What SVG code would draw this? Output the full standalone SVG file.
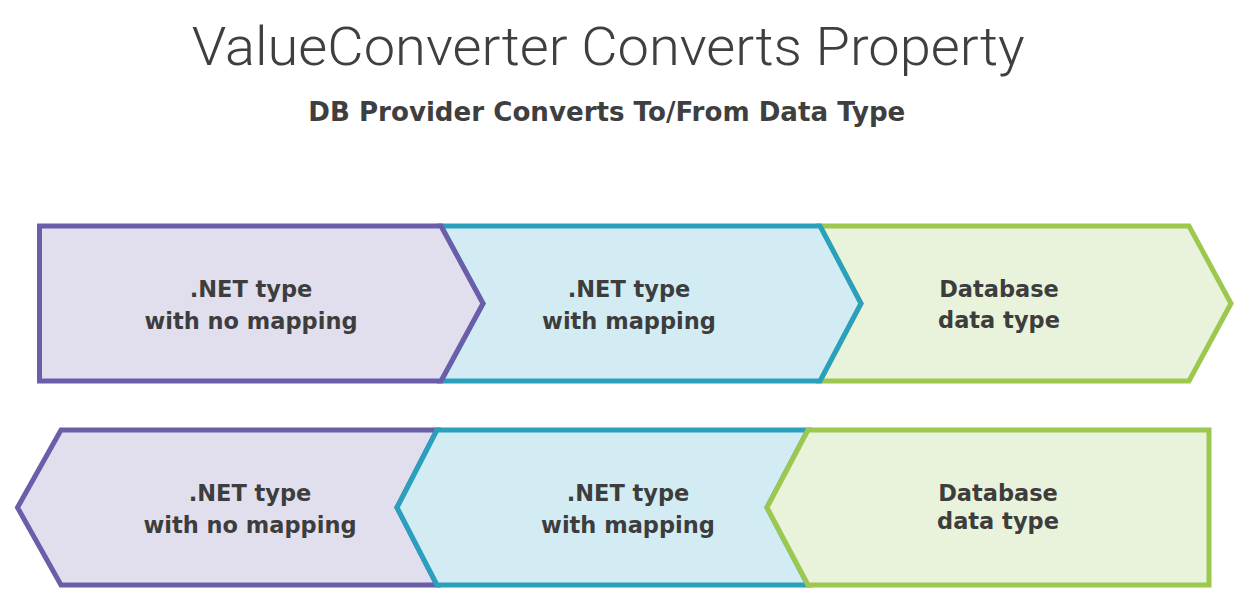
<svg xmlns="http://www.w3.org/2000/svg" width="1256" height="608" viewBox="0 0 1256 608">
<style>
.title{font-family:Roboto,"Open Sans",sans-serif;font-weight:300;font-size:53px;fill:#3f3f3f}
.sub{font-family:"DejaVu Sans",sans-serif;font-weight:bold;font-size:26px;fill:#3f3f3f}
.lbl{font-family:"DejaVu Sans",sans-serif;font-weight:bold;font-size:22.5px;fill:#3d3d3d;text-anchor:middle}
.p{fill:#e1dfee;stroke:#6a5ea9;stroke-width:5}
.t{fill:#d3ecf3;stroke:#2aa0bd;stroke-width:5}
.g{fill:#e9f3dc;stroke:#9cc84f;stroke-width:5}
</style>
<rect width="1256" height="608" fill="#ffffff"/>
<text class="title" x="191.7" y="65" textLength="833" lengthAdjust="spacingAndGlyphs">ValueConverter Converts Property</text>
<text class="sub" x="308.3" y="121" textLength="597" lengthAdjust="spacingAndGlyphs">DB Provider Converts To/From Data Type</text>
<g id="connectors"></g>
<g id="top-db">
<polygon class="g" points="820,226 1189,226 1231,303.5 1189,381 820,381 861,303.5"/>
<text class="lbl" x="999" y="296.7">Database</text>
<text class="lbl" x="999" y="328.3">data type</text>
</g>
<g id="top-mapped">
<polygon class="t" points="441,226 820,226 861,303.5 820,381 441,381 483,303.5"/>
<text class="lbl" x="629" y="296.7">.NET type</text>
<text class="lbl" x="629" y="329">with mapping</text>
</g>
<g id="top-unmapped">
<polygon class="p" points="39.5,226 441,226 483,303.5 441,381 39.5,381"/>
<text class="lbl" x="251" y="296.7">.NET type</text>
<text class="lbl" x="251" y="329">with no mapping</text>
</g>
<g id="bottom-unmapped">
<polygon class="p" points="61,430 437,430 397,507.5 437,585 61,585 17.5,507.5"/>
<text class="lbl" x="250" y="500.7">.NET type</text>
<text class="lbl" x="250" y="533.3">with no mapping</text>
</g>
<g id="bottom-mapped">
<polygon class="t" points="437,430 808,430 767,507.5 808,585 437,585 397,507.5"/>
<text class="lbl" x="628" y="500.7">.NET type</text>
<text class="lbl" x="628" y="533.3">with mapping</text>
</g>
<g id="bottom-db">
<polygon class="g" points="808,430 1209,430 1209,585 808,585 767,507.5"/>
<text class="lbl" x="998" y="500.7">Database</text>
<text class="lbl" x="998" y="529.3">data type</text>
</g>
</svg>
